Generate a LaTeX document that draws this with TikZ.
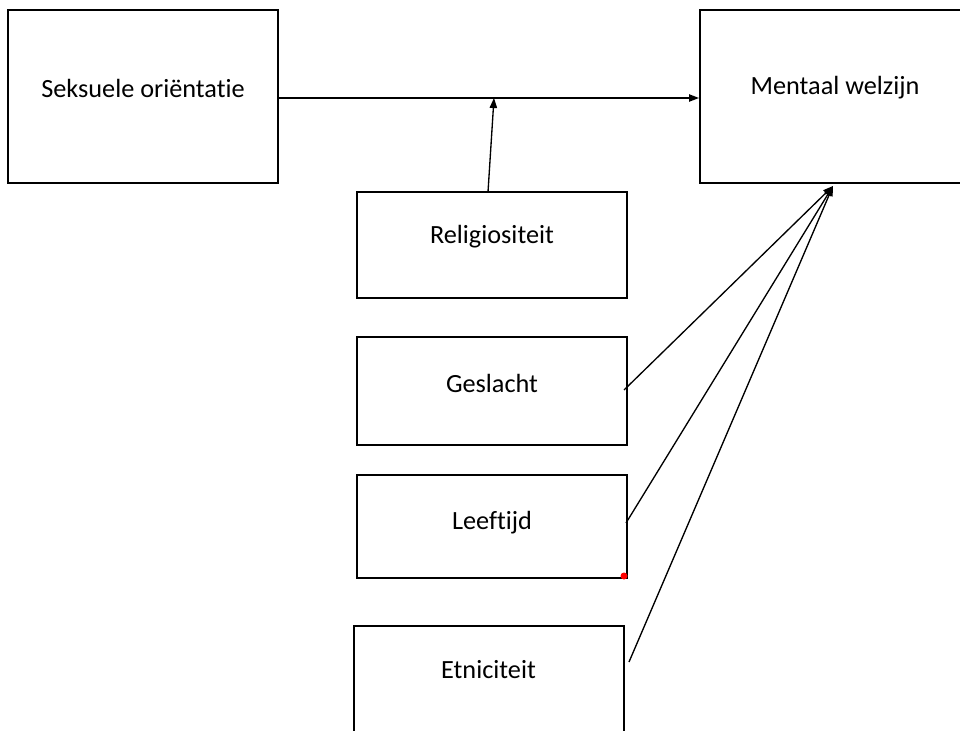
\documentclass[tikz,border=0pt]{standalone}
\usepackage{fontspec}
\setmainfont{Carlito}[Ligatures=NoCommon]
\usetikzlibrary{arrows.meta,calc}

\begin{document}
\begin{tikzpicture}[x=0.75pt,y=-0.75pt,
    box/.style={draw, line width=1.5pt, minimum width=202.5pt, inner sep=0pt},
    lbl/.style={font=\fontsize{19.7}{24}\selectfont, inner sep=0pt},
    arr/.style={line width=1pt, -{Triangle[length=7.5pt,width=5.5pt]}}]
    \useasboundingbox (0,0) rectangle (960,731);
    \clip (0,0) rectangle (960,731);
    %% Boxes
    \node[box, minimum height=129.75pt] (so) at (143,96.5) {};
    \node[box, minimum height=129.75pt] (mw) at (835,96.5) {};
    \node[box, minimum height=79.5pt] (rel) at (492,245) {};
    \node[box, minimum height=81pt] (gesl) at (492,391) {};
    \node[box, minimum height=77.25pt] (leef) at (492,526.5) {};
    \node[box, minimum height=81pt] (etn) at (488.5,680) {};
    %% Labels
    \node[lbl] (so-t) at ($(so.center)+(0,-8.5)$) {Seksuele oriëntatie};
    \node[lbl] (mw-t) at ($(mw.center)+(0,-8.5)$) {Mentaal welzijn};
    \node[lbl] (rel-t) at ($(rel.center)+(0,-8)$) {Religiositeit};
    \node[lbl] (gesl-t) at ($(gesl.center)+(0,-8)$) {Geslacht};
    \node[lbl] (leef-t) at ($(leef.center)+(0,-3.5)$) {Leeftijd};
    \node[lbl] (etn-t) at ($(etn.center)+(0,-10)$) {Etniciteit};
    %% Paths
    \coordinate (mod) at (494,98);
    \coordinate (tip) at (833,186);
    \coordinate (gesl-o) at (624,390);
    \coordinate (leef-o) at (626,523);
    \coordinate (etn-o) at (629,662);
    \draw[arr] (so.east |- mod) -- (mw.west |- mod);
    \draw[arr] (488,192) -- (mod);
    \draw[arr] (gesl-o) -- (tip);
    \draw[arr] (leef-o) -- (tip);
    \draw[arr] (etn-o) -- (tip);
    \fill[red] (624,576) circle (3.5);
\end{tikzpicture}
\end{document}
